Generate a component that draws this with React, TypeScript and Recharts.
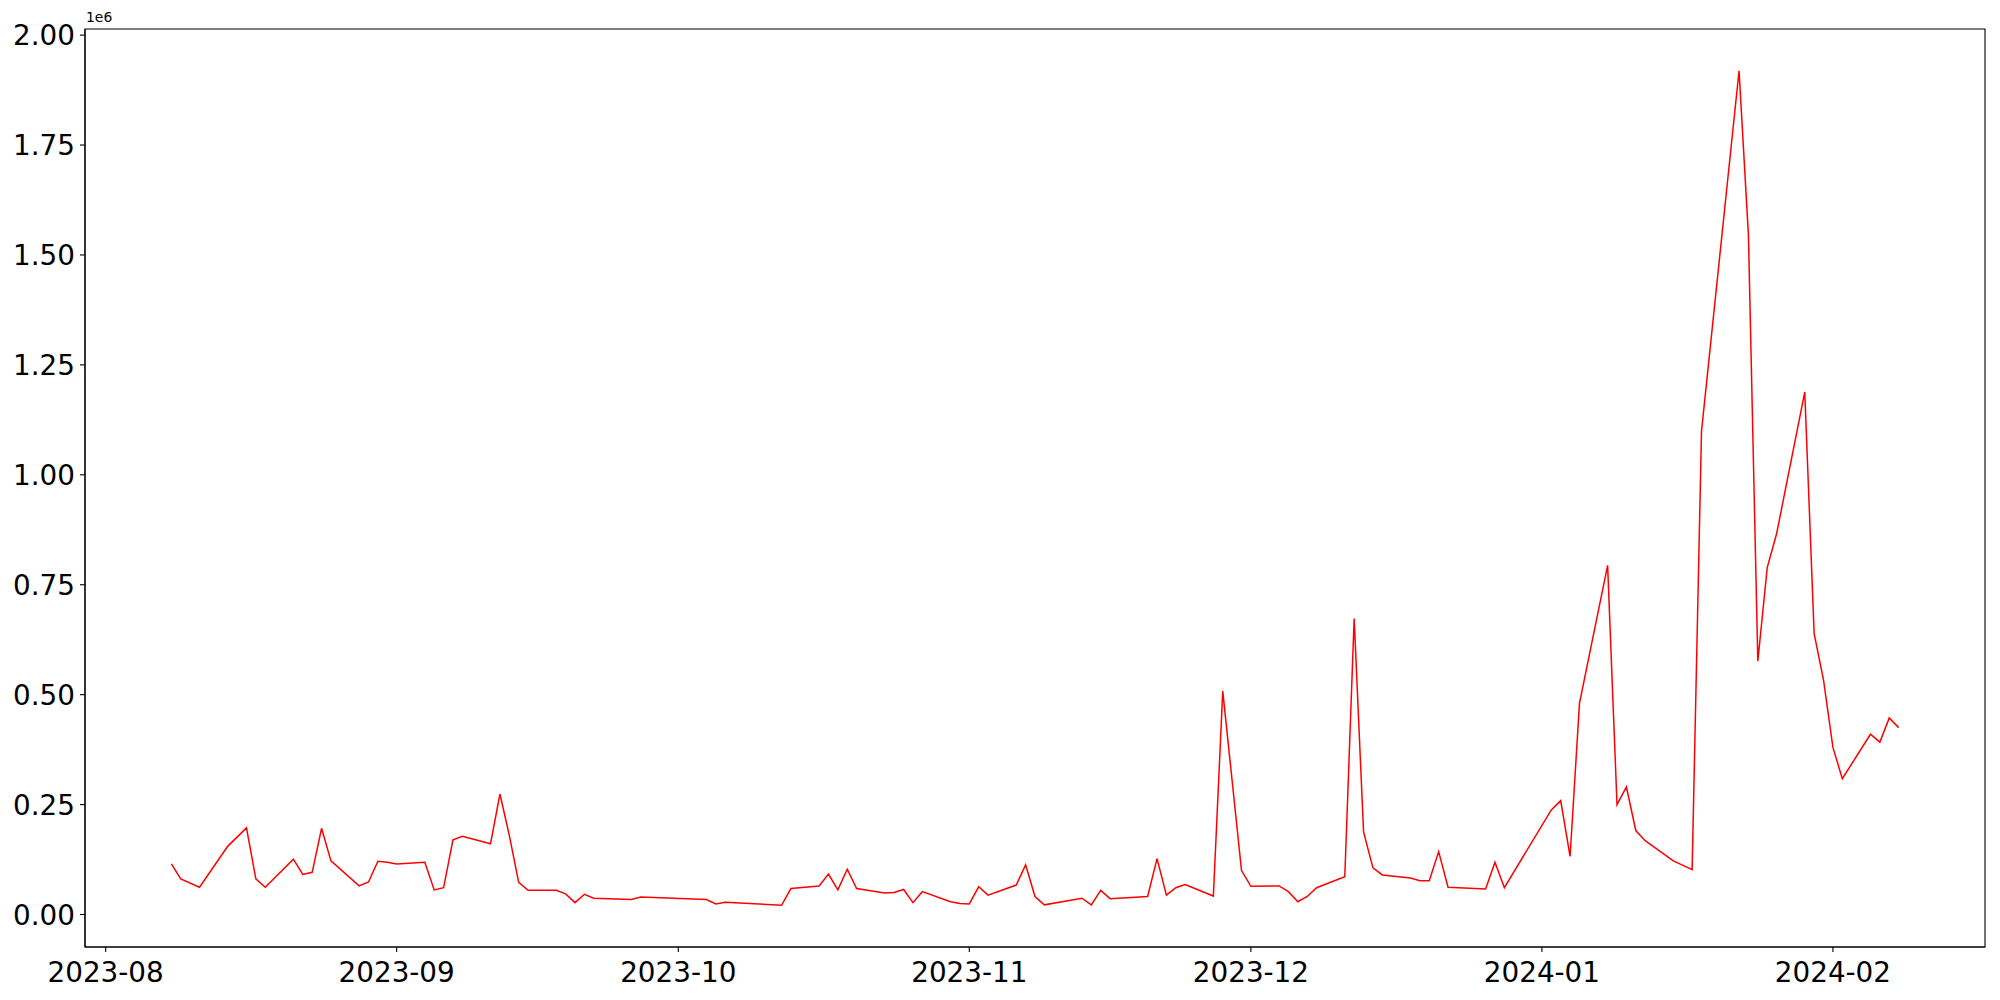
import React from 'react';
import { LineChart, Line, XAxis, YAxis, ReferenceArea } from 'recharts';

const dates: string[] = [
  '2023-08-08', '2023-08-09', '2023-08-11', '2023-08-14', '2023-08-16', '2023-08-17', '2023-08-18',
  '2023-08-21', '2023-08-22', '2023-08-23', '2023-08-24', '2023-08-25', '2023-08-28', '2023-08-29',
  '2023-08-30', '2023-08-31', '2023-09-01', '2023-09-04', '2023-09-05', '2023-09-06', '2023-09-07',
  '2023-09-08', '2023-09-11', '2023-09-12', '2023-09-13', '2023-09-14', '2023-09-15', '2023-09-18',
  '2023-09-19', '2023-09-20', '2023-09-21', '2023-09-22', '2023-09-26', '2023-09-27', '2023-10-04',
  '2023-10-05', '2023-10-06', '2023-10-12', '2023-10-13', '2023-10-16', '2023-10-17', '2023-10-18',
  '2023-10-19', '2023-10-20', '2023-10-23', '2023-10-24', '2023-10-25', '2023-10-26', '2023-10-27',
  '2023-10-30', '2023-10-31', '2023-11-01', '2023-11-02', '2023-11-03', '2023-11-06', '2023-11-07',
  '2023-11-08', '2023-11-09', '2023-11-13', '2023-11-14', '2023-11-15', '2023-11-16', '2023-11-20',
  '2023-11-21', '2023-11-22', '2023-11-23', '2023-11-24', '2023-11-27', '2023-11-28', '2023-11-30',
  '2023-12-01', '2023-12-04', '2023-12-05', '2023-12-06', '2023-12-07', '2023-12-08', '2023-12-11',
  '2023-12-12', '2023-12-13', '2023-12-14', '2023-12-15', '2023-12-18', '2023-12-19', '2023-12-20',
  '2023-12-21', '2023-12-22', '2023-12-26', '2023-12-27', '2023-12-28', '2024-01-02', '2024-01-03',
  '2024-01-04', '2024-01-05', '2024-01-08', '2024-01-09', '2024-01-10', '2024-01-11', '2024-01-12',
  '2024-01-15', '2024-01-17', '2024-01-18', '2024-01-22', '2024-01-23', '2024-01-24', '2024-01-25',
  '2024-01-26', '2024-01-29', '2024-01-30', '2024-01-31', '2024-02-01', '2024-02-02', '2024-02-05',
  '2024-02-06', '2024-02-07', '2024-02-08',
];

const values: number[] = [
  115000, 81000, 62000, 155000, 197000, 81000, 62000,
  126000, 91000, 96000, 196000, 122000, 65000, 74000,
  121000, 119000, 115000, 119000, 56000, 61000, 170000,
  178000, 161000, 274000, 180000, 73000, 55000, 55000,
  47000, 27000, 46000, 37000, 34000, 40000, 34000,
  24000, 28000, 21000, 59000, 65000, 92000, 56000,
  103000, 59000, 49000, 50000, 57000, 27000, 52000,
  29000, 25000, 24000, 63000, 44000, 67000, 113000,
  41000, 22000, 37000, 22000, 55000, 36000, 41000,
  127000, 44000, 61000, 68000, 42000, 508000, 100000,
  64000, 65000, 52000, 29000, 41000, 61000, 86000,
  673000, 188000, 106000, 90000, 83000, 77000, 77000,
  143000, 62000, 58000, 119000, 61000, 238000, 259000,
  132000, 480000, 794000, 250000, 290000, 191000, 168000,
  122000, 102000, 1099000, 1919000, 1545000, 576000, 789000,
  866000, 1188000, 639000, 533000, 380000, 309000, 410000,
  392000, 447000, 425000,
];

const monthTicks: string[] = ['2023-08', '2023-09', '2023-10', '2023-11', '2023-12', '2024-01', '2024-02'];
const yTicks: number[] = [0, 250000, 500000, 750000, 1000000, 1250000, 1500000, 1750000, 2000000];

const toMs = (s: string) => {
  const p = s.split('-').map(Number);
  return Date.UTC(p[0], p[1] - 1, p[2] || 1);
};

const data = dates.map((d, i) => ({ t: toMs(d), v: values[i] }));

const tMin = Math.min(...data.map((d) => d.t));
const tMax = Math.max(...data.map((d) => d.t));
const vMin = Math.min(...values);
const vMax = Math.max(...values);
const xPad = (tMax - tMin) * 0.05;
const yPad = (vMax - vMin) * 0.05;
const xDomain: [number, number] = [tMin - xPad, tMax + xPad];
const yDomain: [number, number] = [vMin - yPad, vMax + yPad];
const xTicks = monthTicks.map(toMs);

const FONT = "'DejaVu Sans', sans-serif";
const FS = 27.8;

const fmtMonth = (ms: number) => {
  const d = new Date(ms);
  const m = d.getUTCMonth() + 1;
  return `${d.getUTCFullYear()}-${m < 10 ? '0' : ''}${m}`;
};

const XTick = (props: any) => {
  const { x, y, payload } = props;
  return (
    <text x={x} y={y + 25} textAnchor="middle" fontFamily={FONT} fontSize={FS} fill="#000">
      {fmtMonth(payload.value)}
    </text>
  );
};

const YTick = (props: any) => {
  const { x, y, payload } = props;
  return (
    <text x={x} y={y + 10} textAnchor="end" fontFamily={FONT} fontSize={FS} fill="#000">
      {(payload.value / 1e6).toFixed(2)}
    </text>
  );
};

const OffsetLabel = (props: any) => {
  const { viewBox } = props;
  return (
    <text x={viewBox.x + viewBox.width + 1} y={viewBox.y - 7} fontFamily={FONT} fontSize={13.9} fill="#000">
      1e6
    </text>
  );
};

const axisStroke = { stroke: '#000', strokeWidth: 1.1 };

export default function App() {
  return (
    <div style={{ position: 'absolute', left: 0, top: 0, width: 2000, height: 1000, background: '#fff' }}>
      <LineChart width={2000} height={1000} data={data} margin={{ top: 29, right: 15, bottom: 0, left: 0 }}>
        <XAxis
          dataKey="t"
          type="number"
          domain={xDomain}
          ticks={xTicks}
          interval={0}
          allowDataOverflow
          height={53}
          tickSize={5}
          tickMargin={5}
          tick={<XTick />}
          tickLine={axisStroke}
          axisLine={axisStroke}
        />
        <YAxis
          dataKey="v"
          type="number"
          domain={yDomain}
          ticks={yTicks}
          interval={0}
          allowDataOverflow
          width={85}
          tickSize={5}
          tickMargin={5}
          tick={<YTick />}
          tickLine={axisStroke}
          axisLine={axisStroke}
          label={<OffsetLabel />}
        />
        <ReferenceArea
          x1={xDomain[0]}
          x2={xDomain[1]}
          y1={yDomain[0]}
          y2={yDomain[1]}
          ifOverflow="visible"
          fill="none"
          fillOpacity={0}
          stroke="#000"
          strokeWidth={1.1}
        />
        <Line
          dataKey="v"
          type="linear"
          stroke="#ff0000"
          strokeWidth={1.5}
          dot={false}
          activeDot={false}
          isAnimationActive={false}
        />
      </LineChart>
    </div>
  );
}
